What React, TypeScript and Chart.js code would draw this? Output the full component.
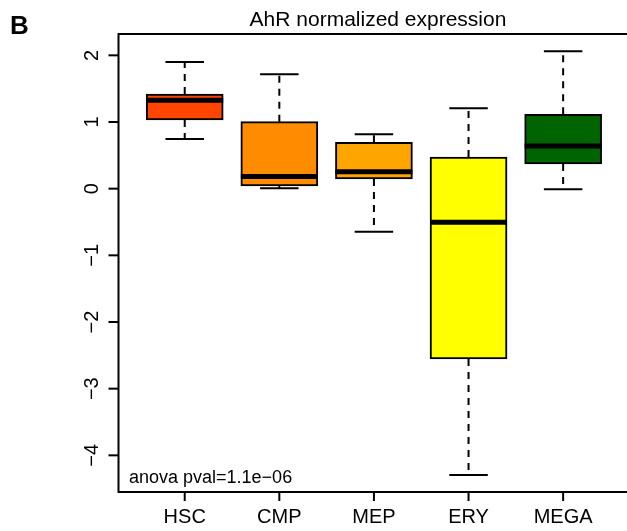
import { useEffect, useRef } from "react";
import { Chart, registerables } from "chart.js";

Chart.register(...registerables);

const categories = ["HSC", "CMP", "MEP", "ERY", "MEGA"];
const whiskerLow = [0.745, 0.006, -0.645, -4.295, -0.01];
const q1 = [1.03, 0.04, 0.145, -2.555, 0.37];
const medians = [1.327, 0.183, 0.255, -0.505, 0.64];
const q3 = [1.42, 1.005, 0.696, 0.475, 1.116];
const whiskerHigh = [1.9, 1.715, 0.816, 1.206, 2.06];
const boxColors = ["#FF4500", "#FF8C00", "#FFA500", "#FFFF00", "#006400"];
const yTickValues = [-4, -3, -2, -1, 0, 1, 2];
const yTickLabels = ["\u22124", "\u22123", "\u22122", "\u22121", "0", "1", "2"];
const titleText = "AhR normalized expression";
const panelLabel = "B";
const annotationText = "anova pval=1.1e\u221206";

const FONT = '"Liberation Sans", Arial, Helvetica, sans-serif';

const boxplotPlugin = {
  id: "boxplotExtras",
  beforeDatasetsDraw(chart: any) {
    const ctx = chart.ctx;
    const xs = chart.scales.x;
    const ys = chart.scales.y;
    const meta = chart.getDatasetMeta(0);
    ctx.save();
    ctx.strokeStyle = "#000";
    ctx.lineWidth = 2;
    categories.forEach((_, i) => {
      const bar = meta.data[i];
      const cx = xs.getPixelForValue(i + 1);
      const w = bar ? bar.width : 76;
      ctx.setLineDash([7, 6]);
      ctx.beginPath();
      ctx.moveTo(cx, ys.getPixelForValue(q3[i]));
      ctx.lineTo(cx, ys.getPixelForValue(whiskerHigh[i]));
      ctx.moveTo(cx, ys.getPixelForValue(q1[i]));
      ctx.lineTo(cx, ys.getPixelForValue(whiskerLow[i]));
      ctx.stroke();
      ctx.setLineDash([]);
      ctx.beginPath();
      const hi = ys.getPixelForValue(whiskerHigh[i]);
      const lo = ys.getPixelForValue(whiskerLow[i]);
      ctx.moveTo(cx - w / 4, hi);
      ctx.lineTo(cx + w / 4, hi);
      ctx.moveTo(cx - w / 4, lo);
      ctx.lineTo(cx + w / 4, lo);
      ctx.stroke();
    });
    ctx.restore();
  },
  afterDatasetsDraw(chart: any) {
    const ctx = chart.ctx;
    const xs = chart.scales.x;
    const ys = chart.scales.y;
    const area = chart.chartArea;
    const meta = chart.getDatasetMeta(0);
    ctx.save();
    ctx.strokeStyle = "#000";
    ctx.lineWidth = 5;
    ctx.lineCap = "butt";
    categories.forEach((_, i) => {
      const bar = meta.data[i];
      const cx = xs.getPixelForValue(i + 1);
      const w = bar ? bar.width : 76;
      const my = ys.getPixelForValue(medians[i]);
      ctx.beginPath();
      ctx.moveTo(cx - w / 2, my);
      ctx.lineTo(cx + w / 2, my);
      ctx.stroke();
    });
    ctx.lineWidth = 2;
    ctx.beginPath();
    ctx.moveTo(chart.width, area.top);
    ctx.lineTo(area.left, area.top);
    ctx.lineTo(area.left, area.bottom);
    ctx.lineTo(chart.width, area.bottom);
    ctx.stroke();
    ctx.fillStyle = "#000";
    ctx.font = `20px ${FONT}`;
    yTickValues.forEach((v, i) => {
      const py = ys.getPixelForValue(v);
      ctx.beginPath();
      ctx.moveTo(area.left - 10, py);
      ctx.lineTo(area.left, py);
      ctx.stroke();
      ctx.save();
      ctx.translate(area.left - 21, py);
      ctx.rotate(-Math.PI / 2);
      ctx.textAlign = "center";
      ctx.textBaseline = "alphabetic";
      ctx.fillText(yTickLabels[i], 0, 0);
      ctx.restore();
    });
    ctx.textAlign = "center";
    ctx.textBaseline = "alphabetic";
    categories.forEach((c, i) => {
      const px = xs.getPixelForValue(i + 1);
      ctx.beginPath();
      ctx.moveTo(px, area.bottom);
      ctx.lineTo(px, area.bottom + 9);
      ctx.stroke();
      ctx.fillText(c, px, area.bottom + 31);
    });
    ctx.textAlign = "left";
    ctx.font = `18px ${FONT}`;
    ctx.fillText(annotationText, area.left + 10.5, area.bottom - 9.5);
    ctx.textAlign = "center";
    ctx.font = `21px ${FONT}`;
    ctx.fillText(titleText, 378, 26);
    ctx.textAlign = "left";
    ctx.font = `bold 26px ${FONT}`;
    ctx.fillText(panelLabel, 10, 34);
    ctx.restore();
  },
};

export default function App() {
  const ref = useRef<HTMLCanvasElement | null>(null);
  useEffect(() => {
    if (!ref.current) return;
    const chart = new Chart(ref.current, {
      type: "bar",
      data: {
        datasets: [
          {
            data: categories.map((_, i) => ({ x: i + 1, y: [q1[i], q3[i]] })) as any,
            backgroundColor: boxColors,
            borderColor: "#000",
            borderWidth: 2,
            borderSkipped: false,
            barThickness: 77,
          } as any,
        ],
      },
      options: {
        responsive: false,
        animation: false,
        devicePixelRatio: 1,
        layout: { padding: { left: 118.5, top: 34, right: 0, bottom: 39 } },
        plugins: { legend: { display: false }, tooltip: { enabled: false }, title: { display: false } },
        scales: {
          x: { type: "linear", display: false, min: 0.3, max: 5.675, offset: false },
          y: { type: "linear", display: false, min: -4.55, max: 2.32, beginAtZero: false },
        },
      } as any,
      plugins: [boxplotPlugin],
    });
    return () => chart.destroy();
  }, []);
  return (
    <div style={{ position: "fixed", left: 0, top: 0, width: 627, height: 531, background: "#fff" }}>
      <canvas ref={ref} width={627} height={531} />
    </div>
  );
}
